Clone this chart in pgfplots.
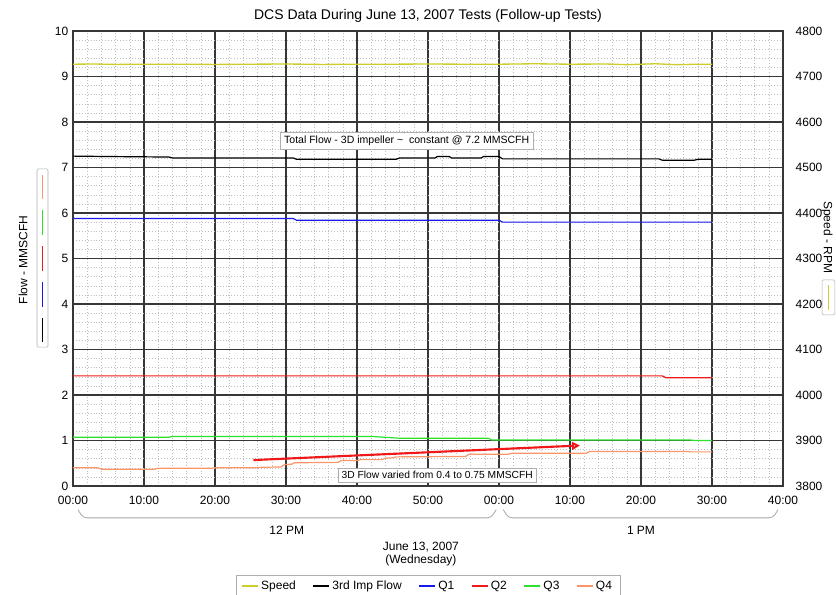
\documentclass[border=0pt]{standalone}
\usepackage{fontspec}
\setmainfont{Liberation Sans}
\usepackage{pgfplots}
\pgfplotsset{compat=1.18}
\usetikzlibrary{arrows.meta}

\definecolor{speedc}{RGB}{205,205,45}
\definecolor{q1c}{RGB}{25,25,235}
\definecolor{q2c}{RGB}{240,25,25}
\definecolor{q3c}{RGB}{45,225,45}
\definecolor{q4c}{RGB}{250,150,105}
\definecolor{gridmaj}{RGB}{55,55,55}
\definecolor{gridmin}{RGB}{190,190,190}
\definecolor{boxc}{RGB}{175,175,175}

\begin{document}
\begin{tikzpicture}
\useasboundingbox (-54.75pt,-81pt) rectangle (572.25pt,364.5pt);

% flows, left scale
\begin{axis}[
  at={(0,0)}, anchor=south west,
  scale only axis, width=532.5pt, height=341.25pt,
  xmin=0, xmax=100, ymin=0, ymax=10,
  clip=false,
  grid=both,
  major grid style={gridmaj, line width=0.8pt},
  minor grid style={gridmin, dash pattern=on 0.6pt off 1.6pt, line width=0.4pt},
  minor x tick num=4, minor y tick num=4,
  xtick={0,10,...,100},
  xticklabels={00:00,10:00,20:00,30:00,40:00,50:00,00:00,10:00,20:00,30:00,40:00},
  ytick={0,1,...,10},
  tick style={draw=none},
  axis line style={gridmaj, line width=0.8pt},
  tick label style={font=\fontsize{9}{10}\selectfont},
  xticklabel style={yshift=-4pt},
  /pgf/number format/assume math mode=true,
  legend columns=6,
  legend style={at={(0.5,-0.1956)}, anchor=north, draw=boxc,
    font=\fontsize{9}{10}\selectfont, inner ysep=2pt, inner xsep=4pt,
    /tikz/every even column/.append style={column sep=10.5pt}},
  legend image code/.code={\draw[#1, line width=0.9pt] (0pt,0pt) -- (12pt,0pt);},
]
\addlegendimage{speedc}
\addlegendentry{Speed}

% 3rd impeller total flow
\addplot[black, line width=0.9pt] coordinates {
 (0,7.25) (6,7.24) (13.5,7.23) (14,7.21) (31,7.21) (31.5,7.18) (45.5,7.18)
 (46,7.21) (51,7.21) (51.3,7.24) (53,7.24) (53.3,7.21) (57.5,7.21) (57.8,7.24)
 (60,7.24) (60.5,7.19) (82.5,7.19) (83,7.16) (87.5,7.16) (88,7.18) (90,7.18)};
\addlegendentry{3rd Imp Flow}

\addplot[q1c, line width=0.9pt] coordinates {
 (0,5.88) (31,5.88) (31.5,5.84) (60,5.84) (60.5,5.80) (90,5.80)};
\addlegendentry{Q1}

\addplot[q2c, line width=0.9pt] coordinates {
 (0,2.42) (83,2.42) (83.5,2.38) (90,2.38)};
\addlegendentry{Q2}

\addplot[q3c, line width=0.9pt] coordinates {
 (0,1.07) (13.5,1.07) (14,1.09) (42,1.09) (44,1.07) (46,1.05) (58.5,1.05)
 (59,1.01) (87,1.01) (87.5,1.0) (90,1.0)};
\addlegendentry{Q3}

\addplot[q4c, line width=0.9pt] coordinates {
 (0,0.40) (3.5,0.40) (4,0.37) (11.5,0.37) (12,0.39) (19.5,0.39) (20,0.40)
 (26,0.40) (26.5,0.41) (29.3,0.42) (29.8,0.47) (30.8,0.48) (31.2,0.51)
 (37.3,0.52) (37.8,0.56) (40,0.56) (40.5,0.58) (43.5,0.58) (44,0.61)
 (45,0.62) (45.5,0.64) (55.3,0.65) (55.8,0.70) (61.3,0.70) (61.8,0.72)
 (72.3,0.72) (72.8,0.76) (86.5,0.76) (87,0.75) (90,0.75)};
\addlegendentry{Q4}

% title and axis captions
\node[font=\fontsize{10.5}{12}\selectfont] at (axis cs:50,10.33)
  {DCS Data During June 13, 2007 Tests (Follow-up Tests)};
\node[rotate=90, font=\fontsize{9}{10}\selectfont] at (axis cs:-7.04,4.97) {Flow - MMSCFH};
\node[rotate=-90, font=\fontsize{9}{10}\selectfont] at (axis cs:106.2,5.47) {Speed - RPM};

% series key beside the left scale
\draw[boxc, fill=white, rounded corners=1pt] (axis cs:-5.07,6.97) rectangle (axis cs:-3.52,3.05);
\draw[q4c, line width=0.9pt]   (axis cs:-4.3,6.84) -- (axis cs:-4.3,6.31);
\draw[q3c, line width=0.9pt]   (axis cs:-4.3,6.07) -- (axis cs:-4.3,5.52);
\draw[q2c, line width=0.9pt]   (axis cs:-4.3,5.27) -- (axis cs:-4.3,4.73);
\draw[q1c, line width=0.9pt]   (axis cs:-4.3,4.48) -- (axis cs:-4.3,3.93);
\draw[black, line width=0.9pt] (axis cs:-4.3,3.69) -- (axis cs:-4.3,3.16);

% series key beside the right scale
\draw[boxc, fill=white, rounded corners=1pt] (axis cs:105.5,4.53) rectangle (axis cs:107.3,3.76);
\draw[speedc, line width=0.9pt] (axis cs:106.4,4.42) -- (axis cs:106.4,3.87);

% hour brackets under the time axis
\draw[gray!70, line width=0.6pt, rounded corners=3pt]
  (axis cs:0.7,-0.52) -- (axis cs:1.4,-0.70) -- (axis cs:58.9,-0.70) -- (axis cs:59.6,-0.52);
\draw[gray!70, line width=0.6pt, rounded corners=3pt]
  (axis cs:60.6,-0.52) -- (axis cs:61.3,-0.70) -- (axis cs:98.6,-0.70) -- (axis cs:99.3,-0.52);
\node[font=\fontsize{9}{10}\selectfont] at (axis cs:30.1,-0.97) {12 PM};
\node[font=\fontsize{9}{10}\selectfont] at (axis cs:80,-0.97) {1 PM};
\node[font=\fontsize{9}{10}\selectfont, align=center] at (axis cs:49,-1.50)
  {June 13, 2007\\(Wednesday)};

% callouts
\node[draw=boxc, fill=white, inner xsep=3pt, inner ysep=2.5pt, font=\fontsize{7.9}{9}\selectfont]
  at (axis cs:47.0,7.59) {Total Flow - 3D impeller \textasciitilde\ \ constant @ 7.2 MMSCFH};
\node[draw=boxc, fill=white, inner xsep=2.5pt, inner ysep=2.5pt, font=\fontsize{7.7}{9}\selectfont]
  at (axis cs:51.3,0.24) {3D Flow varied from 0.4 to 0.75 MMSCFH};
\draw[q2c, line width=1.6pt, -{Triangle[open, length=6pt, width=6pt]}]
  (axis cs:25.4,0.57) -- (axis cs:71.4,0.89);
\end{axis}

% speed, right scale
\begin{axis}[
  at={(0,0)}, anchor=south west,
  scale only axis, width=532.5pt, height=341.25pt,
  xmin=0, xmax=100, ymin=3800, ymax=4800,
  axis x line=none, axis y line*=right,
  ytick={3800,3900,...,4800},
  tick style={draw=none},
  axis line style={gridmaj, line width=0.8pt},
  tick label style={font=\fontsize{9}{10}\selectfont},
  yticklabel style={xshift=6pt},
  /pgf/number format/assume math mode=true,
  /pgf/number format/1000 sep={},
]
\addplot[speedc, line width=1pt] coordinates {
 (0,4727) (3,4727.5) (6,4726.5) (10,4727) (15,4727) (20,4726.5) (25,4727)
 (30,4727.5) (35,4726.5) (40,4727) (45,4727) (50,4727.5) (55,4727) (60,4727)
 (65,4728) (70,4727) (75,4727.5) (78,4726) (82,4728) (85,4726) (88,4727) (90,4727)};
\end{axis}
\end{tikzpicture}
\end{document}
